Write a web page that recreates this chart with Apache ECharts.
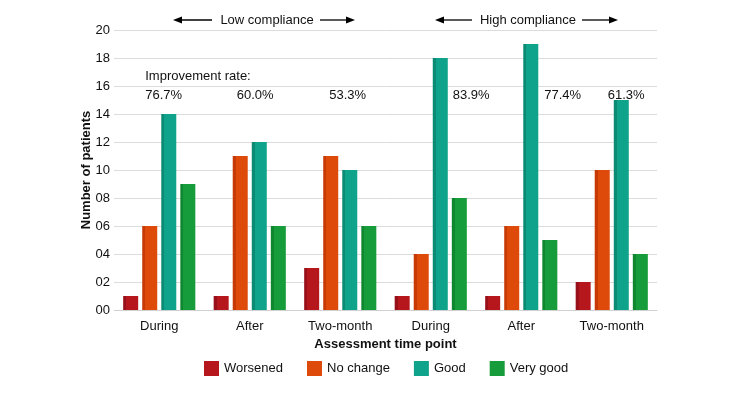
<!DOCTYPE html>
<html><head><meta charset="utf-8">
<script src="https://cdn.jsdelivr.net/npm/echarts@6/dist/echarts.min.js"></script>
<style>html,body{margin:0;padding:0;background:#fff}#c{width:750px;height:420px}</style>
</head><body><div id="c"></div>
<script>
var categories = ['During', 'After', 'Two-month', 'During', 'After', 'Two-month'];
var worsened = [1, 1, 3, 1, 1, 2];
var noChange = [6, 11, 11, 4, 6, 10];
var good = [14, 12, 10, 18, 19, 15];
var veryGood = [9, 6, 6, 8, 5, 4];
var rates = ['76.7%', '60.0%', '53.3%', '83.9%', '77.4%', '61.3%'];
var yTicks = [0, 2, 4, 6, 8, 10, 12, 14, 16, 18, 20];

var FONT = '"Liberation Sans", Arial, sans-serif';
function grad(dark, main) {
  return new echarts.graphic.LinearGradient(0, 0, 1, 0, [
    {offset: 0, color: dark}, {offset: 0.2, color: dark},
    {offset: 0.2, color: main}, {offset: 1, color: main}
  ]);
}
function ser(name, data, dark, main) {
  return {
    name: name, type: 'bar', data: data, barWidth: 15, barGap: '27%',
    itemStyle: {color: grad(dark, main)},
    emphasis: {disabled: true}
  };
}
var chart = echarts.init(document.getElementById('c'), null, {renderer: 'canvas'});
var option = {
  animation: false,
  textStyle: {fontFamily: FONT},
  grid: {left: 114, right: 93, top: 30, bottom: 110, containLabel: false},
  xAxis: {
    type: 'category', data: categories,
    axisTick: {show: false},
    axisLine: {lineStyle: {color: '#d0d0d0'}},
    axisLabel: {color: '#111', fontSize: 13, fontFamily: FONT, margin: 10},
    name: 'Assessment time point', nameLocation: 'middle', nameGap: 27,
    nameTextStyle: {color: '#111', fontSize: 13, fontWeight: 'bold', fontFamily: FONT}
  },
  yAxis: {
    type: 'value', min: 0, max: 20, interval: 2,
    axisLine: {show: false}, axisTick: {show: false},
    splitLine: {lineStyle: {color: '#dcdcdc'}},
    axisLabel: {color: '#111', fontSize: 13, fontFamily: FONT, margin: 4,
      formatter: function (v) { return (v < 10 ? '0' : '') + v; }}
  },
  legend: {
    bottom: 39, left: 199, itemWidth: 15, itemHeight: 15, itemGap: 24,
    icon: 'rect',
    textStyle: {color: '#111', fontSize: 13, fontFamily: FONT},
    data: [
      {name: 'Worsened', itemStyle: {color: '#b5171c'}},
      {name: 'No change', itemStyle: {color: '#dd4a0a'}},
      {name: 'Good', itemStyle: {color: '#0fa38c'}},
      {name: 'Very good', itemStyle: {color: '#169c3a'}}
    ]
  },
  series: [
    ser('Worsened', worsened, '#98101a', '#b5171c'),
    ser('No change', noChange, '#c73a06', '#dd4a0a'),
    ser('Good', good, '#0b8b74', '#0fa38c'),
    ser('Very good', veryGood, '#0e872f', '#169c3a')
  ]
};
chart.setOption(option);

var cx = categories.map(function (c, i) { return chart.convertToPixel({xAxisIndex: 0}, i); });
var yMid = chart.convertToPixel({yAxisIndex: 0}, 10);
var rateOffsets = [-14, -13, -11, 22, 23, -4];
var els = [];
els.push({type: 'text', x: 86, y: yMid, rotation: Math.PI / 2,
  style: {text: 'Number of patients', fill: '#111', font: 'bold 13px ' + FONT, align: 'center', verticalAlign: 'middle'}});
els.push({type: 'text', left: cx[0] - 14, top: 70,
  style: {text: 'Improvement rate:', fill: '#111', font: '13px ' + FONT}});
rates.forEach(function (r, i) {
  els.push({type: 'text', left: cx[i] + rateOffsets[i], top: 89,
    style: {text: r, fill: '#111', font: '13px ' + FONT}});
});
function arrowGroup(label, textLeft, textRight, x0, x1) {
  var y = 20;
  var out = [];
  out.push({type: 'text', x: (textLeft + textRight) / 2, y: y,
    style: {text: label, fill: '#111', font: '13px ' + FONT, align: 'center', verticalAlign: 'middle'}});
  out.push({type: 'line', shape: {x1: x0 + 6, y1: y, x2: textLeft - 6, y2: y}, style: {stroke: '#000', lineWidth: 1.3}});
  out.push({type: 'polygon', shape: {points: [[x0, y], [x0 + 9, y - 3.5], [x0 + 9, y + 3.5]]}, style: {fill: '#000'}});
  out.push({type: 'line', shape: {x1: textRight + 4, y1: y, x2: x1 - 6, y2: y}, style: {stroke: '#000', lineWidth: 1.3}});
  out.push({type: 'polygon', shape: {points: [[x1, y], [x1 - 9, y - 3.5], [x1 - 9, y + 3.5]]}, style: {fill: '#000'}});
  return out;
}
els = els.concat(arrowGroup('Low compliance', 218, 316, 173, 355));
els = els.concat(arrowGroup('High compliance', 478, 578, 435, 618));
chart.setOption({graphic: els});
</script>
</body></html>
